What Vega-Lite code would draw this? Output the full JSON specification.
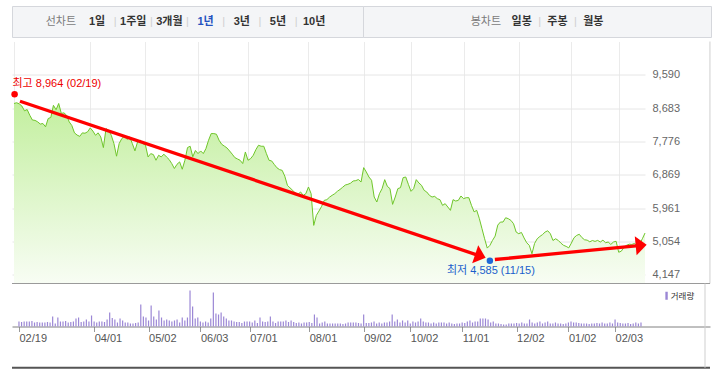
{
"$schema": "https://vega.github.io/schema/vega-lite/v6.json",
"padding": {"left": 11, "top": 5, "right": 0, "bottom": 0},
"background": "white",
"config": {"view": {"stroke": null}, "font": "Liberation Sans, Noto Sans CJK KR"},
"spacing": 2.5,
"resolve": {"scale": {"color": "independent"}, "legend": {"color": "independent"}},
"datasets": {
"px": [
{"i":0,"p":8809,"v":116},{"i":1,"p":8830,"v":105},{"i":2,"p":8800,"v":116},{"i":3,"p":8740,"v":116},{"i":4,"p":8610,"v":116},{"i":5,"p":8645,"v":128},{"i":6,"p":8490,"v":93},{"i":7,"p":8360,"v":105},{"i":8,"p":8350,"v":93},{"i":9,"p":8310,"v":93},
{"i":10,"p":8250,"v":93},{"i":11,"p":8265,"v":105},{"i":12,"p":8175,"v":93},{"i":13,"p":8400,"v":233},{"i":14,"p":8430,"v":70},{"i":15,"p":8760,"v":209},{"i":16,"p":8640,"v":116},{"i":17,"p":8810,"v":116},{"i":18,"p":8540,"v":128},{"i":19,"p":8555,"v":93},
{"i":20,"p":8490,"v":105},{"i":21,"p":8310,"v":116},{"i":22,"p":8210,"v":186},{"i":23,"p":8010,"v":209},{"i":24,"p":7950,"v":105},{"i":25,"p":7915,"v":116},{"i":26,"p":8010,"v":163},{"i":27,"p":8000,"v":116},{"i":28,"p":8040,"v":256},{"i":29,"p":8145,"v":116},
{"i":30,"p":8060,"v":93},{"i":31,"p":7945,"v":116},{"i":32,"p":8010,"v":116},{"i":33,"p":7900,"v":105},{"i":34,"p":7610,"v":163},{"i":35,"p":8125,"v":326},{"i":36,"p":8080,"v":198},{"i":37,"p":7945,"v":163},{"i":38,"p":7720,"v":93},{"i":39,"p":7375,"v":186},
{"i":40,"p":7720,"v":140},{"i":41,"p":7855,"v":93},{"i":42,"p":7920,"v":93},{"i":43,"p":7830,"v":70},{"i":44,"p":7900,"v":70},{"i":45,"p":7720,"v":81},{"i":46,"p":7520,"v":93},{"i":47,"p":7765,"v":512},{"i":48,"p":7810,"v":233},{"i":49,"p":7720,"v":209},
{"i":50,"p":7675,"v":140},{"i":51,"p":7355,"v":488},{"i":52,"p":7445,"v":233},{"i":53,"p":7420,"v":163},{"i":54,"p":7265,"v":372},{"i":55,"p":7400,"v":209},{"i":56,"p":7355,"v":140},{"i":57,"p":7430,"v":163},{"i":58,"p":7355,"v":140},{"i":59,"p":7285,"v":116},
{"i":60,"p":7175,"v":140},{"i":61,"p":7040,"v":163},{"i":62,"p":7155,"v":93},{"i":63,"p":7220,"v":209},{"i":64,"p":7020,"v":140},{"i":65,"p":7265,"v":209},{"i":66,"p":7610,"v":837},{"i":67,"p":7646,"v":465},{"i":68,"p":7360,"v":186},{"i":69,"p":7530,"v":209},
{"i":70,"p":7446,"v":116},{"i":71,"p":7518,"v":93},{"i":72,"p":7446,"v":116},{"i":73,"p":7582,"v":93},{"i":74,"p":7809,"v":186},{"i":75,"p":7991,"v":791},{"i":76,"p":7991,"v":302},{"i":77,"p":7973,"v":279},{"i":78,"p":7809,"v":326},{"i":79,"p":7700,"v":233},
{"i":80,"p":7650,"v":186},{"i":81,"p":7600,"v":140},{"i":82,"p":7518,"v":140},{"i":83,"p":7430,"v":116},{"i":84,"p":7337,"v":105},{"i":85,"p":7300,"v":105},{"i":86,"p":7264,"v":81},{"i":87,"p":7175,"v":116},{"i":88,"p":7490,"v":116},{"i":89,"p":7265,"v":116},
{"i":90,"p":7309,"v":93},{"i":91,"p":7400,"v":140},{"i":92,"p":7555,"v":81},{"i":93,"p":7673,"v":209},{"i":94,"p":7646,"v":116},{"i":95,"p":7646,"v":105},{"i":96,"p":7446,"v":116},{"i":97,"p":7264,"v":233},{"i":98,"p":7246,"v":116},{"i":99,"p":7150,"v":81},
{"i":100,"p":7060,"v":116},{"i":101,"p":7010,"v":116},{"i":102,"p":6990,"v":116},{"i":103,"p":6830,"v":140},{"i":104,"p":6582,"v":105},{"i":105,"p":6510,"v":140},{"i":106,"p":6446,"v":105},{"i":107,"p":6373,"v":81},{"i":108,"p":6337,"v":93},{"i":109,"p":6401,"v":70},
{"i":110,"p":6310,"v":93},{"i":111,"p":6355,"v":93},{"i":112,"p":6537,"v":105},{"i":113,"p":6355,"v":81},{"i":114,"p":5492,"v":279},{"i":115,"p":5764,"v":209},{"i":116,"p":5883,"v":70},{"i":117,"p":6010,"v":93},{"i":118,"p":6173,"v":116},{"i":119,"p":6192,"v":70},
{"i":120,"p":6260,"v":70},{"i":121,"p":6310,"v":70},{"i":122,"p":6355,"v":70},{"i":123,"p":6420,"v":70},{"i":124,"p":6470,"v":70},{"i":125,"p":6530,"v":58},{"i":126,"p":6590,"v":70},{"i":127,"p":6610,"v":93},{"i":128,"p":6640,"v":93},{"i":129,"p":6700,"v":93},
{"i":130,"p":6710,"v":93},{"i":131,"p":6740,"v":81},{"i":132,"p":6673,"v":70},{"i":133,"p":7064,"v":279},{"i":134,"p":6946,"v":81},{"i":135,"p":6809,"v":81},{"i":136,"p":6719,"v":93},{"i":137,"p":6264,"v":116},{"i":138,"p":6128,"v":70},{"i":139,"p":6355,"v":93},
{"i":140,"p":6492,"v":70},{"i":141,"p":6737,"v":93},{"i":142,"p":6555,"v":93},{"i":143,"p":6492,"v":116},{"i":144,"p":6064,"v":279},{"i":145,"p":6264,"v":116},{"i":146,"p":6492,"v":163},{"i":147,"p":6519,"v":93},{"i":148,"p":6791,"v":140},{"i":149,"p":6809,"v":93},
{"i":150,"p":6610,"v":140},{"i":151,"p":6419,"v":70},{"i":152,"p":6492,"v":116},{"i":153,"p":6737,"v":93},{"i":154,"p":6646,"v":116},{"i":155,"p":6582,"v":186},{"i":156,"p":6446,"v":116},{"i":157,"p":6400,"v":93},{"i":158,"p":6310,"v":93},{"i":159,"p":6264,"v":70},
{"i":160,"p":6282,"v":93},{"i":161,"p":6219,"v":70},{"i":162,"p":6192,"v":93},{"i":163,"p":6037,"v":93},{"i":164,"p":6083,"v":93},{"i":165,"p":5992,"v":70},{"i":166,"p":5901,"v":93},{"i":167,"p":6192,"v":70},{"i":168,"p":6155,"v":58},{"i":169,"p":6173,"v":70},
{"i":170,"p":6292,"v":70},{"i":171,"p":6219,"v":93},{"i":172,"p":6246,"v":81},{"i":173,"p":6246,"v":116},{"i":174,"p":6037,"v":140},{"i":175,"p":5860,"v":93},{"i":176,"p":5901,"v":116},{"i":177,"p":5674,"v":116},{"i":178,"p":5401,"v":186},{"i":179,"p":5128,"v":186},
{"i":180,"p":4874,"v":186},{"i":181,"p":4947,"v":163},{"i":182,"p":5083,"v":93},{"i":183,"p":5200,"v":116},{"i":184,"p":5500,"v":70},{"i":185,"p":5583,"v":70},{"i":186,"p":5583,"v":58},{"i":187,"p":5700,"v":47},{"i":188,"p":5674,"v":47},{"i":189,"p":5628,"v":70},
{"i":190,"p":5537,"v":70},{"i":191,"p":5310,"v":70},{"i":192,"p":5265,"v":81},{"i":193,"p":5300,"v":70},{"i":194,"p":5150,"v":93},{"i":195,"p":5020,"v":70},{"i":196,"p":4947,"v":70},{"i":197,"p":4719,"v":163},{"i":198,"p":5000,"v":93},{"i":199,"p":5128,"v":70},
{"i":200,"p":5190,"v":93},{"i":201,"p":5240,"v":116},{"i":202,"p":5310,"v":70},{"i":203,"p":5345,"v":93},{"i":204,"p":5265,"v":116},{"i":205,"p":5080,"v":70},{"i":206,"p":5128,"v":70},{"i":207,"p":5083,"v":93},{"i":208,"p":5010,"v":70},{"i":209,"p":4950,"v":70},
{"i":210,"p":4920,"v":58},{"i":211,"p":4880,"v":70},{"i":212,"p":5010,"v":93},{"i":213,"p":5156,"v":116},{"i":214,"p":5219,"v":93},{"i":215,"p":5250,"v":93},{"i":216,"p":5160,"v":81},{"i":217,"p":5100,"v":70},{"i":218,"p":5090,"v":70},{"i":219,"p":5045,"v":70},
{"i":220,"p":5080,"v":58},{"i":221,"p":5056,"v":70},{"i":222,"p":5083,"v":70},{"i":223,"p":5038,"v":81},{"i":224,"p":5090,"v":70},{"i":225,"p":5020,"v":93},{"i":226,"p":5038,"v":70},{"i":227,"p":4974,"v":70},{"i":228,"p":5038,"v":93},{"i":229,"p":5060,"v":70},
{"i":230,"p":4760,"v":163},{"i":231,"p":4790,"v":93},{"i":232,"p":4900,"v":81},{"i":233,"p":4950,"v":70},{"i":234,"p":4980,"v":70},{"i":235,"p":4974,"v":81},{"i":236,"p":5000,"v":58},{"i":237,"p":4947,"v":70},{"i":238,"p":4992,"v":93},{"i":239,"p":5128,"v":70},
{"i":240,"p":5283,"v":93}
],
"arrows": [
{"n":1,"i1":2.28,"p1":8872,"i2":177.4,"p2":4656},
{"n":2,"i1":182.9,"p1":4563,"i2":238.55,"p2":4950}
],
"ext": [
{"t":"high","i":0,"p":8964,"label":"최고 8,964 (02/19)"},
{"t":"low","i":181,"p":4585,"label":"최저 4,585 (11/15)"}
]
},
"vconcat": [
{
"hconcat": [
{
"width": 351, "height": 31,
"view": {"fill": "#f4f5f7", "stroke": "#d5d7dc"},
"data": {"values": [{"item":"선차트","k":"head"},{"item":"1일","k":"opt"},{"item":"|1","k":"sep"},{"item":"1주일","k":"opt"},{"item":"|2","k":"sep"},{"item":"3개월","k":"opt"},{"item":"|3","k":"sep"},{"item":"1년","k":"opt"},{"item":"|4","k":"sep"},{"item":"3년","k":"opt"},{"item":"|5","k":"sep"},{"item":"5년","k":"opt"},{"item":"|6","k":"sep"},{"item":"10년","k":"opt"}]},
"encoding": {"x": {"field": "item", "type": "nominal", "scale": {"type": "point", "domain": ["_a1","_a2","선차트","_s0","1일","|1","1주일","|2","3개월","|3","1년","|4","3년","|5","5년","|6","10년","_b1","_b2"], "padding": 0.7}, "axis": null}},
"layer": [
{"transform": [{"filter": "datum.k === 'head'"}], "mark": {"type": "text", "fontSize": 11, "color": "#7b7b7b", "baseline": "middle"}, "encoding": {"text": {"field": "item"}}},
{"transform": [{"filter": "datum.k === 'opt'"}], "mark": {"type": "text", "fontSize": 11, "fontWeight": "bold", "baseline": "middle"}, "encoding": {"text": {"field": "item"}, "color": {"condition": {"test": "datum.item === '1년'", "value": "#2452c0"}, "value": "#333333"}}},
{"transform": [{"filter": "datum.k === 'sep'"}], "mark": {"type": "text", "fontSize": 11, "color": "#cfcfcf", "baseline": "middle", "text": "|"}}
]
},
{
"width": 348, "height": 31,
"view": {"fill": "#f4f5f7", "stroke": "#d5d7dc"},
"data": {"values": [{"item":"봉차트","k":"head"},{"item":"일봉","k":"opt"},{"item":"|1","k":"sep"},{"item":"주봉","k":"opt"},{"item":"|2","k":"sep"},{"item":"월봉","k":"opt"}]},
"encoding": {"x": {"field": "item", "type": "nominal", "scale": {"type": "point", "domain": ["_a1","_a2","_a3","_a4","_a5","_a6","봉차트","_s0","일봉","|1","주봉","|2","월봉","_b1","_b2","_b3","_b4","_b5","_b6"], "padding": 0.72, "align": 0.6}, "axis": null}},
"layer": [
{"transform": [{"filter": "datum.k === 'head'"}], "mark": {"type": "text", "fontSize": 11, "color": "#7b7b7b", "baseline": "middle"}, "encoding": {"text": {"field": "item"}}},
{"transform": [{"filter": "datum.k === 'opt'"}], "mark": {"type": "text", "fontSize": 11, "fontWeight": "bold", "color": "#333333", "baseline": "middle"}, "encoding": {"text": {"field": "item"}}},
{"transform": [{"filter": "datum.k === 'sep'"}], "mark": {"type": "text", "fontSize": 11, "color": "#cfcfcf", "baseline": "middle", "text": "|"}}
]
}
],
"spacing": 0,
"bounds": "flush"
},
{
"vconcat": [
{
"width": 633, "height": 242,
"layer": [
{"data": {"name": "px"},
 "mark": {"type": "area", "fill": {"gradient": "linear", "x1": 0, "y1": 0, "x2": 0, "y2": 1, "stops": [{"offset": 0, "color": "#c3ef9f"}, {"offset": 1, "color": "#f8fdf4"}]}},
 "encoding": {
  "x": {"field": "i", "type": "quantitative", "scale": {"domain": [-0.76, 240], "nice": false, "zero": false}, "axis": {"values": [0,29,50,70,89,112,133,151,171,192,212,230], "grid": true, "gridColor": "#ebebeb", "labels": false, "ticks": false, "domain": false, "title": null}},
  "y": {"field": "p", "type": "quantitative", "scale": {"domain": [3910, 10497], "nice": false, "zero": false}, "axis": {"orient": "right", "values": [4147,5054,5961,6869,7776,8683,9590], "format": ",d", "grid": true, "gridColor": "#e6e6e6", "ticks": false, "domain": false, "labelPadding": 7, "labelColor": "#666666", "labelFontSize": 11, "title": null}},
  "y2": {"datum": 3910}
 }},
{"data": {"name": "px"}, "mark": {"type": "line", "color": "#6fc62a", "strokeWidth": 1}, "encoding": {"x": {"field": "i", "type": "quantitative"}, "y": {"field": "p", "type": "quantitative"}}},
{"data": {"name": "arrows"}, "mark": {"type": "rule", "color": "#ff0000", "strokeWidth": 3.3}, "encoding": {"x": {"field": "i1", "type": "quantitative"}, "y": {"field": "p1", "type": "quantitative"}, "x2": {"field": "i2"}, "y2": {"field": "p2"}}},
{"data": {"name": "arrows"}, "transform": [{"filter": "datum.n === 1"}], "mark": {"type": "point", "shape": "M -0.58,-1 L 0.58,0 L -0.58,1 Z", "size": 361, "filled": true, "color": "#ff0000", "opacity": 1, "angle": 18.6}, "encoding": {"x": {"field": "i2", "type": "quantitative"}, "y": {"field": "p2", "type": "quantitative"}}},
{"data": {"name": "arrows"}, "transform": [{"filter": "datum.n === 2"}], "mark": {"type": "point", "shape": "M -0.58,-1 L 0.58,0 L -0.58,1 Z", "size": 361, "filled": true, "color": "#ff0000", "opacity": 1, "angle": -5.55}, "encoding": {"x": {"field": "i2", "type": "quantitative"}, "y": {"field": "p2", "type": "quantitative"}}},
{"data": {"name": "ext"}, "transform": [{"filter": "datum.t === 'high'"}], "mark": {"type": "circle", "color": "#ff0000", "size": 42, "opacity": 1, "yOffset": -3.5, "xOffset": 0.6}, "encoding": {"x": {"field": "i", "type": "quantitative"}, "y": {"field": "p", "type": "quantitative"}}},
{"data": {"name": "ext"}, "transform": [{"filter": "datum.t === 'low'"}], "mark": {"type": "circle", "color": "#1f6ad8", "size": 42, "opacity": 1, "yOffset": 2}, "encoding": {"x": {"field": "i", "type": "quantitative"}, "y": {"field": "p", "type": "quantitative"}}},
{"data": {"name": "ext"}, "transform": [{"filter": "datum.t === 'high'"}], "mark": {"type": "text", "align": "left", "baseline": "middle", "dx": -1.5, "dy": -13.7, "fontSize": 11, "color": "#ee0000"}, "encoding": {"x": {"field": "i", "type": "quantitative"}, "y": {"field": "p", "type": "quantitative"}, "text": {"field": "label"}}},
{"data": {"name": "ext"}, "transform": [{"filter": "datum.t === 'low'"}], "mark": {"type": "text", "align": "center", "baseline": "middle", "dx": 1, "dy": 12.4, "fontSize": 11, "color": "#1a5fcc"}, "encoding": {"x": {"field": "i", "type": "quantitative"}, "y": {"field": "p", "type": "quantitative"}, "text": {"field": "label"}}},
{"data": {"values": [{}]}, "mark": {"type": "rule", "color": "#cfcfcf", "strokeWidth": 1}, "encoding": {"x": {"datum": 264.7}}}
]
},
{
"width": 698, "height": 43,
"layer": [
{"data": {"name": "px"}, "mark": {"type": "bar", "width": 1.2},
 "encoding": {
  "x": {"field": "i", "type": "quantitative", "scale": {"domain": [-0.76, 264.7], "nice": false, "zero": false}, "axis": {"values": [0,29,50,70,89,112,133,151,171,192,212,230], "labelExpr": "['02/19','04/01','05/02','06/03','07/01','08/01','09/02','10/02','11/01','12/02','01/02','02/03'][indexof([0,29,50,70,89,112,133,151,171,192,212,230], datum.value)]", "labelAlign": "left", "labelPadding": 1, "tickSize": 5, "tickColor": "#999999", "domainColor": "#808080", "labelColor": "#555555", "labelFontSize": 11, "grid": false, "title": null, "labelOverlap": false, "labelFlush": false, "labelBound": false}},
  "y": {"field": "v", "type": "quantitative", "scale": {"domain": [0, 1000], "nice": false}, "axis": null},
  "color": {"datum": "거래량", "scale": {"range": ["#9b87d5"]}, "legend": {"orient": "none", "legendX": 650.3, "legendY": 8, "title": null, "symbolType": "M -0.3,-1 L 0.3,-1 L 0.3,1 L -0.3,1 Z", "symbolSize": 64, "symbolStrokeWidth": 0, "labelFontSize": 8.5, "labelColor": "#333333", "labelFont": "Noto Sans CJK KR", "padding": 0, "labelOffset": 0}}
 }},
{"data": {"values": [{}]}, "mark": {"type": "rule", "color": "#9a9a9a", "strokeWidth": 1}, "encoding": {"y": {"datum": 1000}}},
{"data": {"values": [{}]}, "mark": {"type": "rule", "color": "#555555", "strokeWidth": 2}, "encoding": {"y": {"datum": -960}}},
{"data": {"values": [{}]}, "mark": {"type": "rule", "color": "#cfcfcf", "strokeWidth": 1}, "encoding": {"x": {"datum": 264.7}, "y": {"datum": 1000}, "y2": {"datum": -960}}}
]
}
],
"spacing": 0,
"bounds": "flush",
"resolve": {"scale": {"color": "independent"}, "legend": {"color": "independent"}}
}
]
}
